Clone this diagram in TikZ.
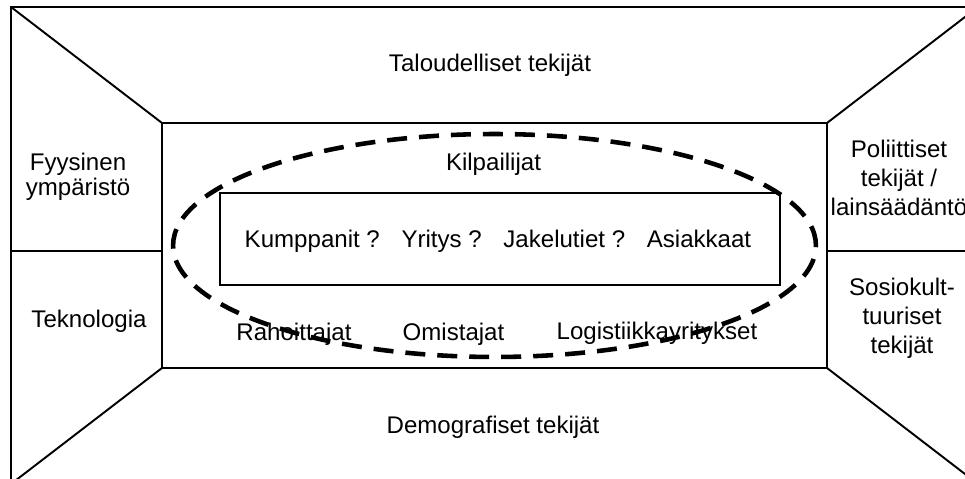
\documentclass[tikz,border=0pt]{standalone}
\usepackage{fontspec}
\setmainfont{Liberation Sans}
\usepackage{xcolor}
\usetikzlibrary{shapes,positioning,calc}

\begin{document}
\begin{tikzpicture}[x=0.02cm, y=-0.02cm, line width=1.1pt,
		font=\fontsize{13.7}{16.5}\selectfont,
		testo/.style={anchor=base, inner sep=0pt},
		blocco/.style={align=center, inner sep=0pt},
		tratteggio/.style={line width=2.6pt, dash pattern=on 0.4cm off 0.24cm}]
	\useasboundingbox (0,0) rectangle (965,479);
	\clip (0,0) rectangle (965,479);

	% Cornice
	\coordinate (e1) at (11,7);
	\coordinate (e2) at (978,7);
	\coordinate (e3) at (978,484);
	\coordinate (e4) at (11,484);
	\coordinate (i1) at (162,123);
	\coordinate (i2) at (827,123);
	\coordinate (i3) at (827,368);
	\coordinate (i4) at (162,368);
	\coordinate (sx) at (11,251);
	\coordinate (dx) at (978,251);
	\draw (e1) rectangle (e3);
	\draw (i1) rectangle (i3);
	\draw (e1) -- (i1);
	\draw (e2) -- (i2);
	\draw (e3) -- (i3);
	\draw (e4) -- (i4);
	\draw (sx) -- (sx -| i1);
	\draw (dx) -- (dx -| i2);

	% Fattori esterni
	\node[testo] (talous) at (490,72) {Taloudelliset tekijät};
	\node[testo] (demo) at (493,434) {Demografiset tekijät};
	\node[blocco, font=\fontsize{13.7}{14.2}\selectfont] (fyys) at (78,176.4) {Fyysinen\\ympäristö};
	\node[testo] (tekno) at (89,328) {Teknologia};
	\node[blocco] (polit) at (899,177.8) {Poliittiset\\tekijät /\\lainsäädäntö};
	\node[blocco] (sosio) at (902,317.9) {Sosiokult-\\tuuriset\\tekijät};

	% Riquadro centrale
	\coordinate (r1) at (220,193);
	\coordinate (r2) at (780,285);
	\draw (r1) rectangle (r2);
	\node[testo] (ydin) at (498,248) {Kumppanit ?\hspace{0.9em}Yritys ?\hspace{0.9em}Jakelutiet ?\hspace{0.9em}Asiakkaat};
	\node[testo] (kilpa) at (493.5,170.7) {Kilpailijat};
	\node[testo] (rahoit) at (294,341) {Rahoittajat};
	\node[testo] (omist) at (453.5,341) {Omistajat};
	\node[testo] (logist) at (657,340) {Logistiikkayritykset};

	% Ellisse
	\draw[tratteggio] (494.5,245.5) ellipse [x radius=6.43cm, y radius=2.23cm];
\end{tikzpicture}
\end{document}
